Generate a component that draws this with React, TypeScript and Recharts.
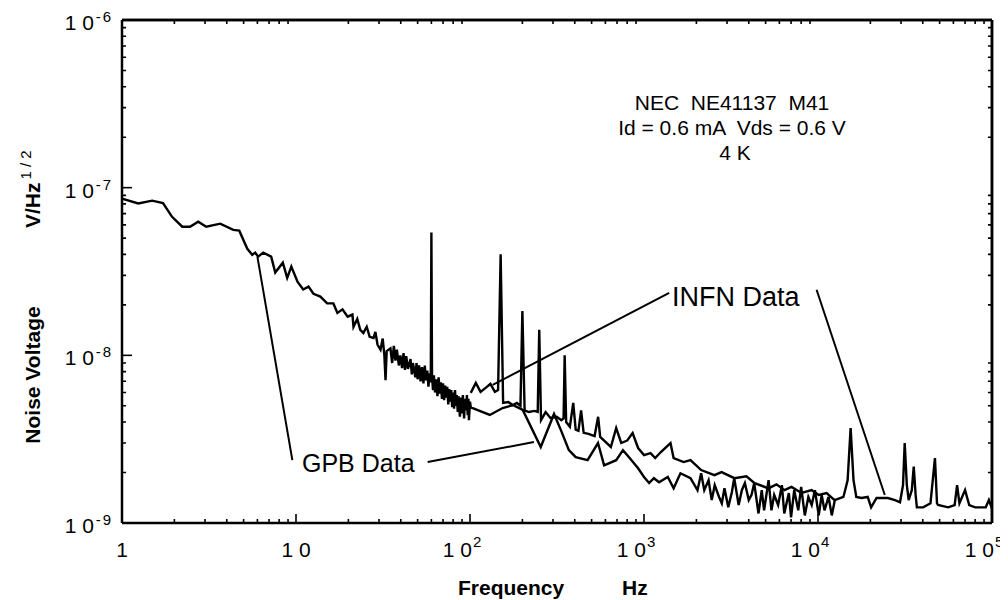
import React from 'react';
import { LineChart, Line, XAxis, YAxis } from 'recharts';

// noise voltage in units of 1e-9 V/Hz^1/2
const gpbFreq = [
  1, 1.24, 1.49, 1.72, 1.94, 2.22, 2.46, 2.74, 3.05, 3.67, 4.36, 4.72, 5.25, 5.6, 5.83, 6.06, 6.48, 7.2, 7.6, 8.4,
  8.9, 9.4, 10.2, 11, 11.8, 12.6, 13.8, 15.1, 16.4, 17.3, 18.5, 19.8, 21.1, 21.4, 22.5, 23.4, 24.4, 25.5, 26.5, 27.9,
  28.6, 29.4, 30.6, 31.5, 32.2, 32.7, 33.2, 34.9, 35.7, 36.5, 37.3, 38, 39, 39.8, 40.7, 41.5, 42.3, 43, 44, 45.5,
  46.3, 47, 48.5, 49.3, 50, 51, 52, 53, 54, 55, 55.7, 56.8, 57.7, 58.7, 59.5, 60, 60.5, 61.3, 62, 63,
  64, 65, 66, 67, 68, 69, 70, 71, 72, 73, 74, 75, 76, 77, 78, 79, 80, 81, 82, 83,
  84, 85, 86, 87.5, 88.6, 90, 91, 92.5, 93.5, 95, 96, 97, 98, 98.6, 100, 101, 130, 154, 177, 201,
  255, 304, 333, 370, 405, 474, 544, 590, 692, 757, 820, 925, 1000, 1070, 1140, 1220, 1370, 1480, 1620, 1850,
  2030, 2130, 2220, 2350, 2450, 2550, 2700, 2800, 2900, 3050, 3200, 3300, 3500, 3650, 3800, 4000, 4150, 4300, 4550, 4750,
  4900, 5200, 5400, 5600, 5900, 6200, 6400, 6800, 7000, 7300, 7700, 8000, 8400, 8800, 9200, 9600, 10100, 10500, 10900, 11500,
  12000, 12500,
];
const gpbNoise = [
  86, 80.5, 83.7, 81, 67, 58.5, 58.5, 62.7, 58.5, 61, 56, 55.4, 43.2, 39.8, 41, 38.8, 41, 38.8, 31.2, 35.7,
  29, 33.8, 27.5, 24.7, 25.7, 23.3, 22.4, 20.4, 20.4, 17.9, 18.8, 17, 17.5, 14.8, 16.5, 14.2, 13.6, 14.8, 12.9, 12.7,
  13.8, 11.6, 10.8, 12.6, 10, 7.1, 10.6, 11, 9, 11.4, 9.3, 10.8, 8.7, 10, 8.4, 10.3, 8.2, 9.9, 8.3, 9.5,
  7.7, 9, 7.4, 9, 7.2, 8.7, 7, 8.5, 6.8, 8.7, 7.1, 8.1, 6.5, 7.8, 6.9, 54, 7.5, 6.2, 7.6, 6,
  7.2, 5.7, 7.4, 5.9, 6.9, 5.5, 6.8, 5.4, 6.6, 5.6, 6.5, 5.1, 6.3, 5.3, 6.2, 4.9, 6, 4.8, 6.2, 5,
  5.8, 4.6, 5.7, 4.3, 5.6, 4.5, 5.8, 4.2, 5.5, 4.7, 5.8, 4.4, 5.5, 4.1, 5.3, 4.9, 4.41, 4.85, 5.05, 4.72,
  2.84, 4.47, 3.58, 2.72, 2.47, 2.37, 3, 2.21, 2.37, 2.72, 2.47, 2.12, 1.88, 1.73, 1.85, 1.75, 1.88, 1.61, 1.98, 1.85,
  1.57, 1.98, 1.57, 1.8, 1.37, 1.68, 1.43, 1.31, 1.61, 1.24, 1.53, 1.85, 1.28, 1.57, 1.73, 1.37, 1.47, 1.73, 1.14, 1.57,
  1.19, 1.8, 1.19, 1.47, 1.28, 1.68, 1.14, 1.51, 1.08, 1.57, 1.19, 1.64, 1.11, 1.43, 1.28, 1.57, 1.11, 1.47, 1.19, 1.43,
  1.11, 1.37,
];

const infnFreq = [
  101, 108, 115, 125, 131, 139, 145, 150, 155, 166, 176, 186, 195, 200, 206, 218, 235, 245, 250, 256,
  272, 290, 315, 335, 345, 350, 357, 375, 392, 405, 420, 435, 450, 480, 520, 545, 560, 645, 692, 740,
  800, 860, 925, 1000, 1090, 1160, 1250, 1420, 1480, 1690, 1850, 2130, 2540, 2790, 3310, 3880, 4320, 5190, 5770, 6420,
  7040, 8040, 9190, 10100, 11200, 12460, 14000, 14800, 15400, 16000, 16600, 17800, 19300, 20200, 21700, 25200, 27700, 29600, 30800, 31500,
  32400, 33200, 34600, 35500, 36400, 37000, 40200, 44300, 47000, 48300, 49000, 56000, 61000, 63000, 65000, 70000, 74000, 80000, 92000, 96000,
  100000,
];
const infnNoise = [
  5.97, 6.85, 6.05, 6.48, 6.76, 6.05, 6.2, 40, 5.2, 5.26, 5.05, 5.2, 5, 18.4, 4.7, 4.59, 4.66, 4.6, 14.2, 4.11,
  4.59, 4.23, 4.3, 4.1, 4.2, 10, 4, 3.75, 5.2, 3.6, 3.55, 4.7, 3.45, 3.4, 3.3, 4.3, 3.26, 2.84, 3.68, 3,
  3.1, 3.44, 2.8, 2.54, 2.61, 2.44, 2.65, 3, 2.44, 2.31, 2.37, 2.07, 1.93, 2.01, 1.85, 1.9, 1.73, 1.61, 1.7, 1.57,
  1.64, 1.51, 1.57, 1.47, 1.51, 1.37, 1.43, 1.8, 3.68, 1.8, 1.43, 1.41, 1.43, 1.24, 1.41, 1.41, 1.37, 1.33, 1.68, 3,
  1.68, 1.37, 1.57, 2.17, 1.47, 1.24, 1.24, 1.31, 2.44, 1.31, 1.28, 1.24, 1.28, 1.68, 1.31, 1.57, 1.28, 1.24, 1.24, 1.37,
  1.22,
];

const xMajorTicks = [1, 10, 100, 1000, 10000, 100000];
const xTickLabels = ['1', '10', '10^2', '10^3', '10^4', '10^5'];
const yMajorTicks = [1, 10, 100, 1000];
const yTickLabels = ['10^-9', '10^-8', '10^-7', '10^-6'];
const minorSteps = [2, 3, 4, 5, 6, 7, 8, 9];

// leader lines: [freq, noise] at the curve end and at the label end
const pointerCurveEnd = [[6.0, 38.8], [233, 3.04], [135, 6.67], [24200, 1.47]];
const pointerTextEnd = [[9.53, 2.37], [57.1, 2.31], [1396, 23.6], [9815, 24.6]];

const gpbData = gpbFreq.map((f, i) => ({ f, v: gpbNoise[i] }));
const infnData = infnFreq.map((f, i) => ({ f, v: infnNoise[i] }));
const pointerData = pointerCurveEnd.map((p, i) => [
  { f: p[0], v: p[1] },
  { f: pointerTextEnd[i][0], v: pointerTextEnd[i][1] },
]);

const minorOnly = (majors: number[]) =>
  majors.flatMap((t, i) => (i < majors.length - 1 ? minorSteps.map((m) => t * m) : []));
const xMinor = minorOnly(xMajorTicks);
const yMinor = minorOnly(yMajorTicks);

const X_MIN = 1, X_MAX = 100000, Y_MIN = 1, Y_MAX = 1000;
// a hair inside the frame so the marks are not sitting exactly on the domain limits
const IN = 1.0004;
// inward minor tick length as a log-axis factor (about 174 px per x decade, 167 px per y decade)
const X_MINOR_LEN = Math.pow(10, 4 / 173.8);
const Y_MINOR_LEN = Math.pow(10, 4 / 167.3);

// minor ticks on each side drawn as one comb-shaped path along the edge
const xComb = (edge: number, up: boolean) =>
  xMinor.flatMap((t) => [
    { f: t, v: edge },
    { f: t, v: up ? edge * Y_MINOR_LEN : edge / Y_MINOR_LEN },
    { f: t, v: edge },
  ]);
const yComb = (edge: number, right: boolean) =>
  yMinor.flatMap((t) => [
    { f: edge, v: t },
    { f: right ? edge * X_MINOR_LEN : edge / X_MINOR_LEN, v: t },
    { f: edge, v: t },
  ]);
const tickCombs = [
  xComb(Y_MIN * IN, true),
  xComb(Y_MAX / IN, false),
  yComb(X_MIN * IN, true),
  yComb(X_MAX / IN, false),
];
const frameEdges = [
  [{ f: X_MIN * IN, v: Y_MAX / IN }, { f: X_MAX / IN, v: Y_MAX / IN }],
  [{ f: X_MAX / IN, v: Y_MIN * IN }, { f: X_MAX / IN, v: Y_MAX / IN }],
];

const FONT = '"Liberation Sans", Arial, Helvetica, sans-serif';

function splitLabel(label: string) {
  const [base, exp] = label.split('^');
  return { base: base === '10' ? '1 0' : base, exp };
}

// tick props arrive 9px inside the frame because of the negative tickSize
function BottomTick(props: any) {
  const { x, y, payload } = props;
  const idx = xMajorTicks.findIndex((t) => Math.abs(t - payload.value) < 1e-6 * t);
  if (idx < 0) return <g />;
  const { base, exp } = splitLabel(xTickLabels[idx]);
  const by = y + 43;
  return exp ? (
    <g fontFamily={FONT} fill="#000">
      <text x={x + 2} y={by} fontSize={21} textAnchor="end">{base}</text>
      <text x={x + 3} y={by - 10} fontSize={15} textAnchor="start">{exp}</text>
    </g>
  ) : (
    <text x={x} y={by} fontSize={21} textAnchor="middle" fontFamily={FONT} fill="#000">{base}</text>
  );
}

function LeftTick(props: any) {
  const { x, y, payload } = props;
  const idx = yMajorTicks.findIndex((t) => Math.abs(t - payload.value) < 1e-6 * t);
  if (idx < 0) return <g />;
  const { base, exp } = splitLabel(yTickLabels[idx]);
  const ax = x - 10;
  return (
    <g fontFamily={FONT} fill="#000">
      <text x={ax - 28} y={y + 10} fontSize={21} textAnchor="end">{base}</text>
      <text x={ax - 9} y={y + 2} fontSize={15} textAnchor="end" letterSpacing={2}>{exp}</text>
    </g>
  );
}

const axisLine = { stroke: '#000', strokeWidth: 2.5 };
const tickLine = { stroke: '#000', strokeWidth: 1.6 };

export default function App() {
  return (
    <div style={{ position: 'relative', width: 1000, height: 592 }}>
      <svg
        width={1000}
        height={592}
        style={{ position: 'absolute', left: 0, top: 0 }}
        fontFamily={FONT}
        fill="#000"
      >
        <text x={724} y={102} fontSize={21} textAnchor="middle" style={{ whiteSpace: 'pre' }}>
          NEC  NE41137  M41
        </text>
        <text x={724} y={127} fontSize={21} textAnchor="middle" style={{ whiteSpace: 'pre' }}>
          Id = 0.6 mA  Vds = 0.6 V
        </text>
        <text x={727} y={152} fontSize={21} textAnchor="middle">4 K</text>
        <text x={294} y={464} fontSize={25}>GPB Data</text>
        <text x={664} y={298} fontSize={27}>INFN Data</text>
        <text x={450} y={587} fontSize={21} fontWeight="bold">Frequency</text>
        <text x={614} y={587} fontSize={21} fontWeight="bold">Hz</text>
        <text transform="translate(32,367) rotate(-90)" fontSize={21} fontWeight="bold" textAnchor="middle">
          Noise Voltage
        </text>
        <text transform="translate(32,220) rotate(-90)" fontSize={21} fontWeight="bold">
          V/Hz
          <tspan dx={3} dy={-9} fontSize={15} fontWeight="normal">1 / 2</tspan>
        </text>
      </svg>
      <div style={{ position: 'absolute', left: 0, top: 0 }}>
        <LineChart width={1000} height={592} margin={{ top: 0, right: 0, bottom: 0, left: 0 }}>
          <XAxis
            dataKey="f"
            type="number"
            scale="log"
            domain={[X_MIN, X_MAX]}
            ticks={xMajorTicks}
            interval={0}
            height={77}
            tickSize={-9}
            tickMargin={0}
            tickLine={tickLine}
            axisLine={axisLine}
            tick={BottomTick}
          />
          <XAxis
            xAxisId="top"
            orientation="top"
            dataKey="f"
            type="number"
            scale="log"
            domain={[X_MIN, X_MAX]}
            ticks={xMajorTicks}
            interval={0}
            height={12}
            tickSize={-9}
            tickLine={tickLine}
            axisLine={axisLine}
            tick={false}
          />
          <YAxis
            type="number"
            scale="log"
            domain={[Y_MIN, Y_MAX]}
            ticks={yMajorTicks}
            interval={0}
            width={114}
            tickSize={-10}
            tickMargin={0}
            tickLine={tickLine}
            axisLine={axisLine}
            tick={LeftTick}
          />
          <YAxis
            yAxisId="right"
            orientation="right"
            type="number"
            scale="log"
            domain={[Y_MIN, Y_MAX]}
            ticks={yMajorTicks}
            interval={0}
            width={16}
            tickSize={-10}
            tickLine={tickLine}
            axisLine={axisLine}
            tick={false}
          />
          <Line
            data={gpbData}
            dataKey="v"
            type="linear"
            stroke="#000"
            strokeWidth={2.4}
            dot={false}
            isAnimationActive={false}
          />
          <Line
            data={infnData}
            dataKey="v"
            type="linear"
            stroke="#000"
            strokeWidth={2.4}
            dot={false}
            isAnimationActive={false}
          />
          {pointerData.map((d, i) => (
            <Line key={'p' + i} data={d} dataKey="v" type="linear" stroke="#000" strokeWidth={2}
              dot={false} activeDot={false} isAnimationActive={false} />
          ))}
          {frameEdges.map((d, i) => (
            <Line key={'e' + i} data={d} dataKey="v" type="linear" stroke="#000" strokeWidth={2.5}
              dot={false} activeDot={false} isAnimationActive={false} />
          ))}
          {tickCombs.map((d, i) => (
            <Line key={'c' + i} data={d} dataKey="v" type="linear" stroke="#000" strokeWidth={1.6}
              dot={false} activeDot={false} isAnimationActive={false} />
          ))}
        </LineChart>
      </div>
    </div>
  );
}
